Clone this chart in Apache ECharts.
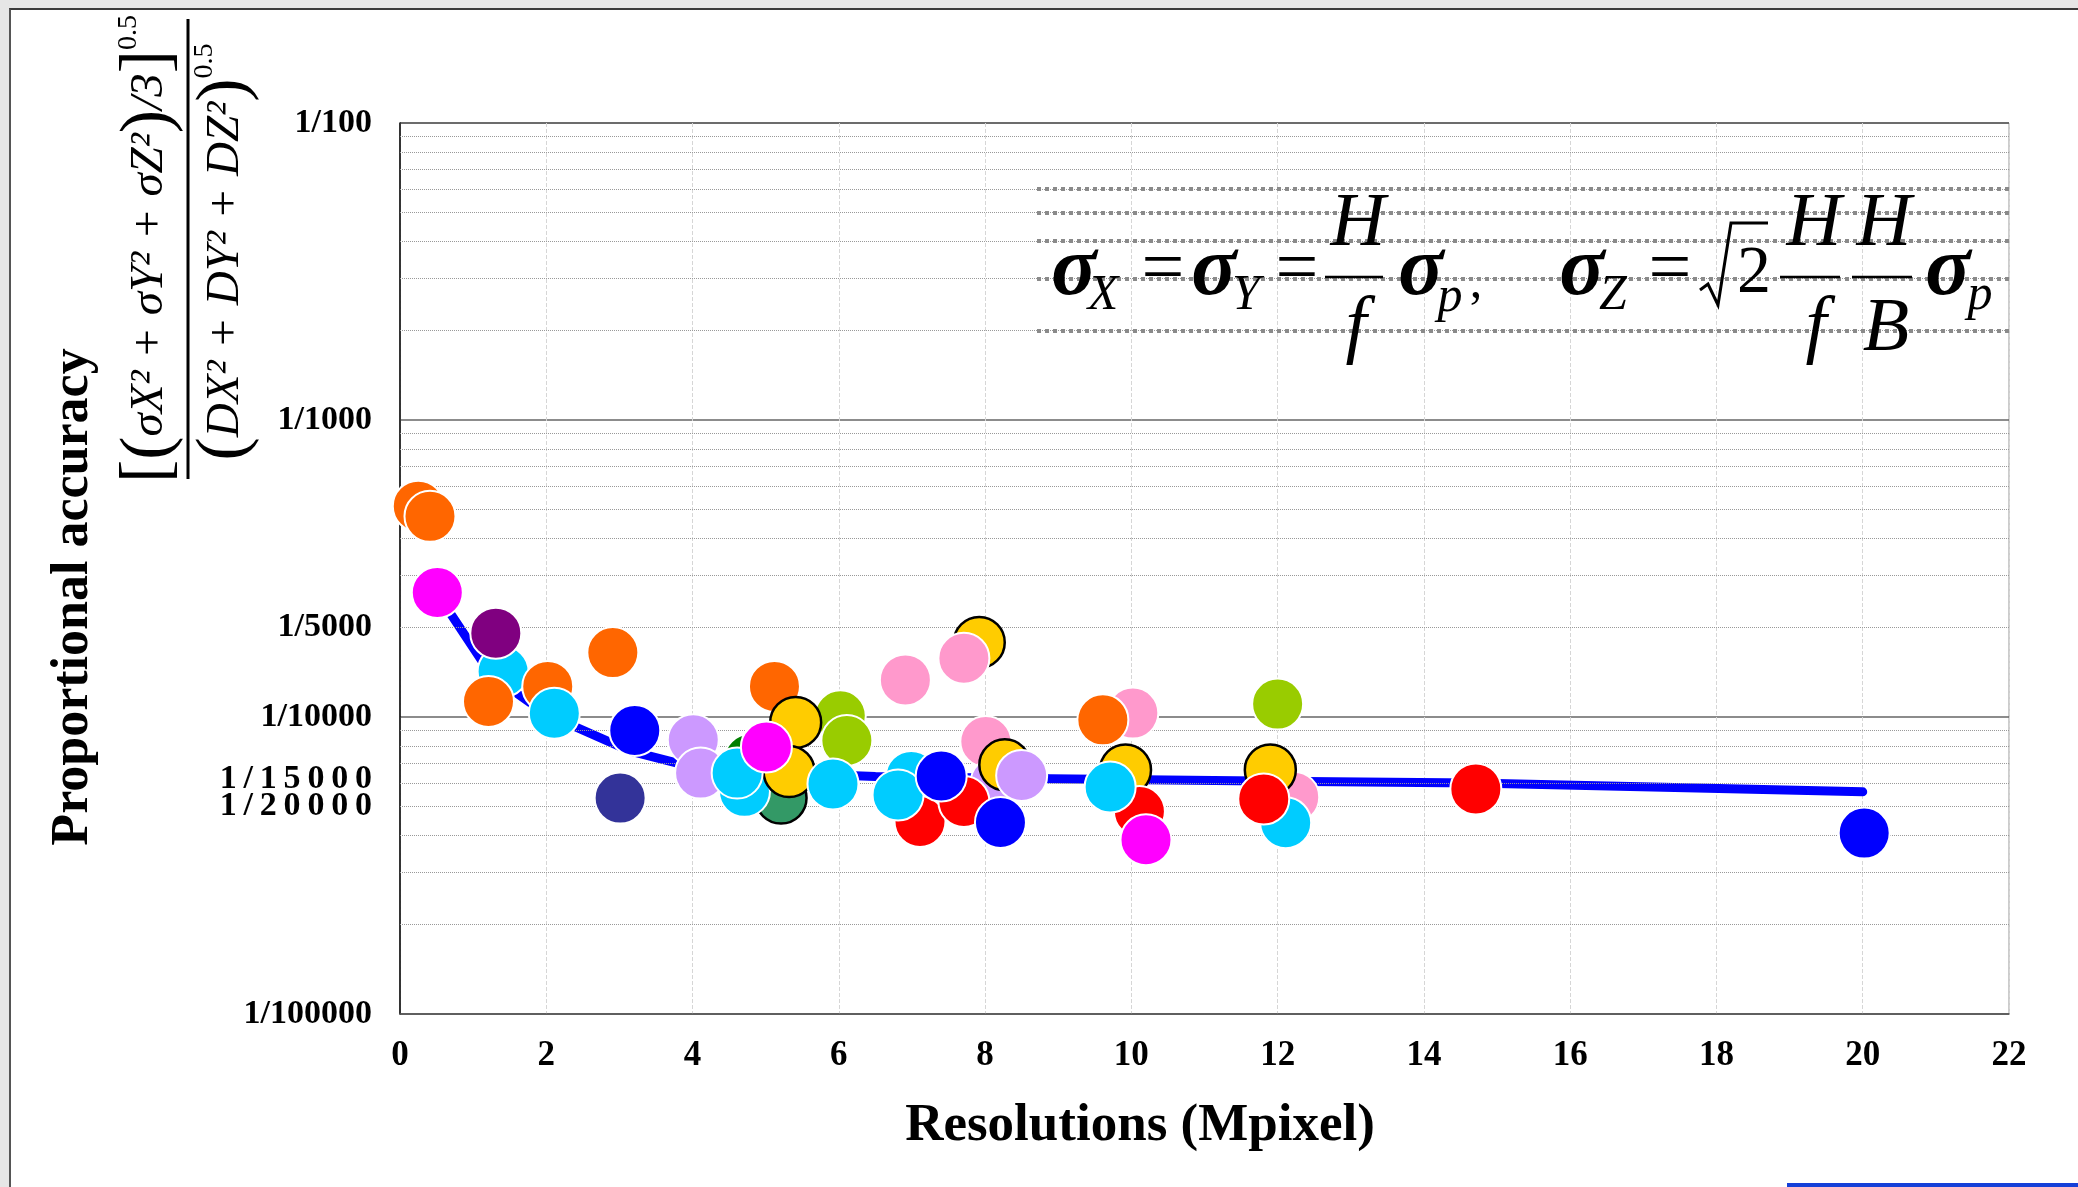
<!DOCTYPE html>
<html>
<head>
<meta charset="utf-8">
<title>Proportional accuracy vs resolution</title>
<script src="https://cdn.jsdelivr.net/npm/echarts@6/dist/echarts.min.js"></script>
<style>
  html, body { margin: 0; padding: 0; width: 2078px; height: 1187px; overflow: hidden; background: #e6e6e6; }
  #panel { position: absolute; left: 9px; top: 8px; width: 2069px; height: 1179px; background: #fff;
           border-top: 2px solid #3a3a3a; border-left: 2px solid #555; box-sizing: border-box; }
  #chart { position: absolute; left: 0; top: 0; width: 2078px; height: 1187px; }
  #bar { position: absolute; left: 1787px; top: 1183px; width: 291px; height: 4px; background: #1540d8; }
</style>
</head>
<body>
<div id="panel"></div>
<div id="bar"></div>
<div id="chart"></div>
<script>
// points: [resolution (Mpixel), N]  where accuracy = 1/N
var navyPts = [[3.01, 18750]];
var darkGreenPts = [[4.78, 13900]];
var seaGreenPts = [[5.21, 18750]];
var yellowGreenPts = [[6.02, 9910], [6.11, 12000], [12.0, 9050]];
var pinkBackPts = [[8.01, 12090], [10.02, 9700], [12.22, 18620]];
var cyanBackPts = [[1.41, 7030], [4.71, 17800], [6.99, 15850], [12.11, 22700]];
var orangePts = [[0.25, 1950], [0.41, 2110], [1.21, 8870], [2.02, 7890], [2.91, 6070], [5.12, 7890], [9.61, 10220]];
var purplePts = [[1.31, 5220]];
var lavenderBackPts = [[4.01, 11940], [4.11, 15450], [8.15, 16600]];
var yellowPts = [[5.41, 10430], [5.32, 15260], [7.92, 5610], [8.27, 14490], [9.92, 15070], [11.90, 15070]];
var redPts = [[7.11, 22480], [7.71, 19250], [10.11, 20800], [11.81, 18880], [14.71, 17460]];
var pinkFrontPts = [[6.91, 7500], [7.71, 6340]];
var cyanFrontPts = [[2.11, 9710], [4.61, 15450], [5.92, 16800], [6.81, 18300], [9.71, 17200]];
var lavenderFrontPts = [[8.50, 15740]];
var bluePts = [[3.21, 11100], [7.40, 15800], [8.21, 22650], [20.02, 24600]];
var magentaPts = [[0.51, 3810], [5.01, 12620], [10.20, 25900]];

// trend line
var trendX = [0.5, 1.25, 2.0, 3.15, 4.1, 5.4, 6.5, 8.9, 12.4, 14.7, 20];
var trendN = [3810, 7240, 9770, 13030, 14960, 15490, 15850, 16140, 16480, 16670, 17860];

// y tick labels (1/N)
var yTickN = [100, 1000, 5000, 10000, 15000, 20000, 100000];

var FONT = 'Liberation Serif';

function toAcc(p) { return [p[0], 1 / p[1]]; }

var groups = [
    { pts: navyPts, color: '#333399' },
    { pts: darkGreenPts, color: '#008000' },
    { pts: seaGreenPts, color: '#339966', edge: '#000' },
    { pts: yellowGreenPts, color: '#99cc00' },
    { pts: pinkBackPts, color: '#ff99cc' },
    { pts: cyanBackPts, color: '#00ccff' },
    { pts: orangePts, color: '#ff6600' },
    { pts: purplePts, color: '#800080' },
    { pts: lavenderBackPts, color: '#cc99ff' },
    { pts: yellowPts, color: '#ffcc00', edge: '#000' },
    { pts: redPts, color: '#ff0000' },
    { pts: pinkFrontPts, color: '#ff99cc' },
    { pts: cyanFrontPts, color: '#00ccff' },
    { pts: lavenderFrontPts, color: '#cc99ff' },
    { pts: bluePts, color: '#0000ff' },
    { pts: magentaPts, color: '#ff00ff' }
];

// minor log grid lines k * 10^n
var minorLines = [];
for (var n = -5; n < -2; n++) {
    for (var k = 2; k <= 9; k++) {
        var v = k * Math.pow(10, n);
        minorLines.push([{ coord: [0, v] }, { coord: [22, v] }]);
    }
}
// darker copies of grid lines inside the pasted formula picture
var formulaLines = [6e-3, 5e-3, 4e-3, 3e-3, 2e-3].map(function (v) {
    return [{ coord: [8.71, v] }, { coord: [22, v] }];
});

var series = [{
    type: 'scatter',
    z: 1,
    data: [],
    markLine: {
        silent: true,
        symbol: ['none', 'none'],
        label: { show: false },
        lineStyle: { color: '#999', type: 'dotted', width: 1 },
        data: minorLines
    }
}, {
    type: 'scatter',
    z: 1,
    data: [],
    markLine: {
        silent: true,
        symbol: ['none', 'none'],
        label: { show: false },
        lineStyle: { color: '#8a8a8a', type: 'dotted', width: 4 },
        data: formulaLines
    }
}, {
    type: 'line',
    z: 2,
    symbol: 'none',
    data: trendX.map(function (x, i) { return [x, 1 / trendN[i]]; }),
    lineStyle: { color: '#0000ff', width: 9, cap: 'round', join: 'round' }
}];

groups.forEach(function (g, i) {
    series.push({
        type: 'scatter',
        z: 10 + i,
        symbol: 'circle',
        symbolSize: 51,
        data: g.pts.map(toAcc),
        itemStyle: {
            color: g.color,
            opacity: 1,
            borderColor: g.edge || '#fff',
            borderWidth: g.edge ? 2.5 : 2
        }
    });
});

// formula drawn as text pieces
function t(txt, x, y, size, italic, bold) {
    return {
        type: 'text', x: x, y: y, z: 100,
        style: {
            text: txt, fontFamily: FONT, fontSize: size,
            fontStyle: italic ? 'italic' : 'normal',
            fontWeight: bold ? 'bold' : 'normal',
            fill: '#000', align: 'center', verticalAlign: 'middle'
        }
    };
}
function bar(x1, x2, y) {
    return { type: 'line', z: 100, shape: { x1: x1, y1: y, x2: x2, y2: y }, style: { stroke: '#000', lineWidth: 2.5 } };
}

var richF = {
    m: { fontFamily: FONT, fontSize: 47, fontStyle: 'italic', fill: '#000' },
    b: { fontFamily: FONT, fontSize: 70, fill: '#000' },
    e: { fontFamily: FONT, fontSize: 28, fill: '#000', verticalAlign: 'top' }
};

var graphics = [
    { type: 'text', x: 74, y: 597, rotation: Math.PI / 2, z: 100,
      style: { text: 'Proportional accuracy', fontFamily: FONT, fontSize: 52, fontWeight: 'bold',
               fill: '#000', align: 'center', verticalAlign: 'middle' } },
    { type: 'text', x: 1140, y: 1126, z: 100,
      style: { text: 'Resolutions (Mpixel)', fontFamily: FONT, fontSize: 53, fontWeight: 'bold',
               fill: '#000', align: 'center', verticalAlign: 'middle' } },
    { type: 'text', x: 150, y: 249, rotation: Math.PI / 2, z: 100,
      style: { text: '{b|[(}{m|σX² + σY² + σZ²}{b|)}{m|/3}{b|]}{e|0.5}', rich: richF,
               align: 'center', verticalAlign: 'middle' } },
    { type: 'line', z: 100, shape: { x1: 188, y1: 19, x2: 188, y2: 479 }, style: { stroke: '#000', lineWidth: 3 } },
    { type: 'text', x: 226, y: 252, rotation: Math.PI / 2, z: 100,
      style: { text: '{b|(}{m|DX² + DY² + DZ²}{b|)}{e|0.5}', rich: richF,
               align: 'center', verticalAlign: 'middle' } },

    t('σ', 1074, 272, 84, true, true), t('X', 1103, 296, 50, true),
    t('=', 1163, 272, 76),
    t('σ', 1214, 272, 84, true, true), t('Y', 1246, 296, 50, true),
    t('=', 1297, 272, 76),
    t('H', 1358, 225, 76, true), bar(1325, 1383, 277), t('f', 1356, 329, 76, true),
    t('σ', 1421, 272, 84, true, true), t('p', 1450, 298, 50, true), t(',', 1476, 284, 50),

    t('σ', 1582, 272, 84, true, true), t('Z', 1613, 296, 50, true),
    t('=', 1670, 272, 76),
    { type: 'polyline', z: 100, shape: { points: [[1700, 290], [1708, 284], [1718, 305], [1731, 223], [1768, 223]] },
      style: { stroke: '#000', lineWidth: 3, fill: null } },
    t('2', 1754, 274, 68),
    t('H', 1814, 225, 76, true), bar(1780, 1840, 277), t('f', 1816, 329, 76, true),
    t('H', 1884, 225, 76, true), bar(1852, 1912, 277), t('B', 1886, 330, 76, true),
    t('σ', 1948, 272, 84, true, true), t('p', 1980, 296, 50, true)
];

var labelRich = {
    n: { fontFamily: FONT, fontWeight: 'bold', fontSize: 34, color: '#000' },
    lo: { fontFamily: FONT, fontWeight: 'bold', fontSize: 34, color: '#000', padding: [20, 0, 0, 0] }
};

var myChart = echarts.init(document.getElementById('chart'));
myChart.setOption({
    animation: false,
    backgroundColor: 'transparent',
    grid: {
        left: 400, right: 69, top: 123, bottom: 173,
        show: true, borderColor: '#999', borderWidth: 1, backgroundColor: 'transparent'
    },
    xAxis: {
        type: 'value',
        min: 0, max: 22, interval: 2,
        axisLine: { onZero: false, lineStyle: { color: '#555', width: 1.5 } },
        axisTick: { show: false },
        axisLabel: { fontFamily: FONT, fontWeight: 'bold', fontSize: 35, color: '#000', margin: 24 },
        splitLine: { lineStyle: { color: '#d6d6d6', type: 'dashed', width: 1 } }
    },
    yAxis: {
        type: 'log',
        logBase: 10,
        min: 1e-5, max: 1e-2,
        axisLine: { show: true, lineStyle: { color: '#000', width: 1.5 } },
        axisTick: { show: false },
        axisLabel: {
            customValues: yTickN.map(function (d) { return 1 / d; }),
            fontFamily: FONT, fontWeight: 'bold', fontSize: 34, color: '#000', margin: 28,
            rich: labelRich,
            formatter: function (v) {
                var d = Math.round(1 / v);
                if (yTickN.indexOf(d) < 0) return '';
                var s = '1/' + d;
                // the two crowded labels are spread out in the original
                if (d === 15000) return '{lo|' + s.split('').join('\u2009') + '}';
                if (d === 20000) return '{n|' + s.split('').join('\u2009') + '}';
                return '{n|' + s + '}';
            }
        },
        splitLine: { lineStyle: { color: '#666', width: 1.5 } }
    },
    series: series,
    graphic: graphics
});
</script>
</body>
</html>
